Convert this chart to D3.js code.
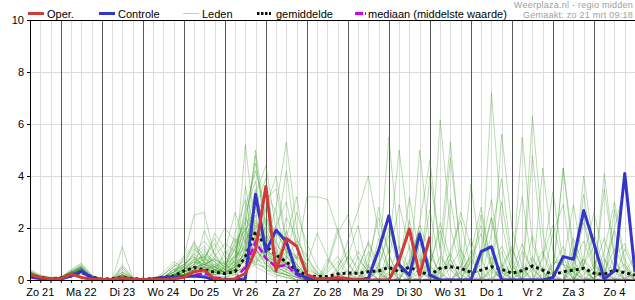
<!DOCTYPE html>
<html lang="nl">
<head>
<meta charset="UTF-8">
<title>Neerslag pluim</title>
<script src="https://cdn.jsdelivr.net/npm/d3@7"></script>
<style>
  body { margin: 0; background: #fff; }
  text { font-family: "Liberation Sans", Arial, sans-serif; }
</style>
</head>
<body>
<script>
// dagen op de x-as (label in het midden van de dag)
const dagen = ['Zo 21', 'Ma 22', 'Di 23', 'Wo 24', 'Do 25', 'Vr 26', 'Za 27', 'Zo 28', 'Ma 29', 'Di 30', 'Wo 31', 'Do 1', 'Vr 2', 'Za 3', 'Zo 4']
const yTicks = [0, 2, 4, 6, 8, 10]

// neerslag in mm per 6 uur, eerste waarde = zo 21 06:00
const oper = [0.2,0.1,0.05,0.05, 0.23,0.1,0.03,0.02, 0.02,0.09,0.03,0.02, 0.02,0.02,0.05,0.1,
  0.32,0.38,0.05,0, 0.05,0.25,1.15,3.6, 0.35,1.6,1.3,0.2, 0.05,0.05,0.1,0.05, 0.02,0,0,0, 0.77,1.96,0.19,1.67]
const controle = [0.15,0.05,0,0.05, 0.15,0.35,0.1,0.02, 0,0.05,0.02,0, 0.05,0.1,0.12,0.13,
  0.15,0.12,0,0, 0,0.05,3.3,1.1, 1.92,1.47,0.27,0.07, 0,0,0,0, 0,0.07,1.15,2.47,
  0.58,0.19,1.77,0.2, 0,0,0,0, 1.09,1.28,0,0, 0,0,0,0.1, 0.9,0.8,2.67,1.41, 0.03,0.36,4.1,0.3]
const gemiddelde = [0.15,0.1,0.05,0.08, 0.2,0.3,0.12,0.03, 0.05,0.1,0.05,0.03, 0.05,0.1,0.15,0.35,
  0.48,0.4,0.3,0.25, 0.32,0.9,1.86,1.3, 0.96,0.7,0.38,0.17, 0.13,0.13,0.23,0.27, 0.26,0.32,0.35,0.49,
  0.32,0.49,0.32,0.19, 0.45,0.51,0.45,0.3, 0.38,0.51,0.41,0.26, 0.36,0.54,0.38,0.19, 0.32,0.38,0.45,0.26, 0.22,0.38,0.28,0.19]
const mediaan = [0.1,0.05,0.02,0.03, 0.15,0.35,0.05,0, 0,0,0,0, 0,0,0.05,0.1,
  0.2,0.25,0.1,0.05, 0.02,0.5,1.47,0.83, 0.5,0.58,0.19,0.02, 0,0,0,0, 0,0,0,0,
  0,0,0,0, 0,0,0,0, 0,0,0,0, 0,0,0,0, 0,0,0,0, 0,0,0,0]

const leden = [
  [0.3,0.1,0.05,0.1, 0.3,0.5,0.1,0, 0,0.1,0,0, 0,0.1,0.2,0.4, 0.8,1.2,0.5,0.3, 0.8,2.1,4.8,1.5, 0.9,1.2,0.5,0.1, 0,0,0.2,0.1, 0,0.3,1.2,0.4, 0.2,0,0,0.5, 2.2,0.8,0,0.1, 0,0.3,0.1,0, 0,0.4,1.1,0.2, 0,0,0.6,1.8, 0.4,0,0.1,0.2],
  [0.2,0.1,0.05,0.05, 0.2,0.4,0.1,0, 0,0.2,0.05,0, 0,0,0.1,0.2, 0.5,0.9,1.4,0.6, 0.3,1.2,2.8,3.9, 1.1,0.6,0.3,0, 0,0,0,0.1, 0.4,1.5,0.6,0, 0,0,0.3,0.1, 0,0,0.5,1.6, 0.3,0,0,0, 0,0,0.2,0.1, 0,0.3,0,0, 0,0.5,0.2,0],
  [0.4,0.2,0.1,0.1, 0.4,0.65,0.2,0, 0,0.6,0.1,0, 0,0.3,0.7,0.5, 1.5,0.6,0.2,0.4, 1.8,3.1,1.2,0.6, 0.3,0.2,0.1,0, 0,0,0,0, 0,0,0,0.8, 2.9,1.2,0,0, 0,0,0,0.2, 0.6,2.4,0.5,0, 0,0,0,0, 0,0,0.9,2.6, 0.8,0,0,0],
  [0.15,0.05,0,0.05, 0.15,0.3,0.1,0, 0,1.28,0.1,0, 0,0.1,0.2,0.3, 0.6,1.1,0.7,0.2, 0.4,5.2,1.8,0.9, 0.4,0.7,0.3,0.1, 0,0.4,0.9,0.3, 0,0,0,0.2, 0.5,0.1,0,0, 0,1.1,2.3,0.4, 0,0,0,0.3, 1.4,0.2,0,0, 0,0,0,0.1, 0.3,1.2,0.5,0],
  [0.25,0.1,0.05,0.1, 0.25,0.45,0.15,0, 0,0.5,0.05,0, 0.05,0.2,0.5,0.9, 2.5,2.6,0.9,0.5, 1.2,2.4,1.6,0.8, 0.2,0.1,0,0, 0,0.3,0.7,0.2, 0.1,0.6,0.2,0, 0,0.8,1.9,0.5, 0,0,0.3,0.9, 0,0,0.4,1.2, 0.3,0,0,0.5, 1.3,0,0.2,0.6, 0.2,0,0,0],
  [0.35,0.15,0.05,0.1, 0.35,0.55,0.15,0, 0,0.3,0.05,0, 0,0.05,0.3,0.6, 0.9,0.5,0.3,1.1, 2.6,1.4,5.0,2.1, 1.5,0.6,0.2,0.1, 0,0,0,0, 0,0,0.5,5.5, 1.2,0,0,0, 0.4,1.0,0.2,0, 0,0,0.6,0.3, 0,0.8,0.3,0, 0,0.5,0.1,0, 0,0.9,1.4,0.4],
  [0.2,0.1,0,0.05, 0.2,0.35,0.1,0, 0,0,0,0, 0,0,0.1,0.2, 0.4,0.7,1.8,1.2, 0.6,1.0,3.2,1.4, 2.8,5.3,2.0,0.4, 0,0,0,0, 0,0,0,0.6, 0,0.6,2.1,1.1, 0.2,0,0,0.7, 1.8,0.4,0,0, 0,0,0.5,0.2, 4.3,1.2,0.3,0, 0,0,0,0.3],
  [0.3,0.1,0.05,0.1, 0.3,0.45,0.1,0, 0,0.1,0,0, 0,0,0,0.1, 0.3,0.4,0.5,0.7, 1.4,2.2,2.6,3.1, 3.5,1.4,0.8,3.2, 3.2,3.1,1.9,0.6, 0.2,0,0,0, 0,0,0.8,0.3, 0,0,0,0, 0,0.5,1.3,0.4, 0,0,0,0, 0,0,0,0.5, 1.6,0.4,0,0],
  [0.15,0.05,0.05,0.05, 0.2,0.3,0.1,0, 0,0.2,0.05,0, 0,0.05,0.1,0.2, 0.2,0.3,0.2,0.1, 0.3,0.9,1.4,1.0, 0.5,0.3,0.2,0, 0,0,0.4,1.5, 2.7,4.0,1.8,0.4, 0,0,0,0, 6.15,2.0,0.5,0, 0,0,0.3,0, 0,0,0,0.7, 0.6,0.4,0,0, 0,0.3,0.6,0],
  [0.2,0.1,0.05,0.1, 0.2,0.4,0.15,0, 0,0.1,0,0, 0,0.1,0.3,0.4, 0.7,0.9,0.4,0.3, 0.8,1.6,2.0,2.4, 1.8,1.2,0.9,0.4, 0.2,0,0,0, 0,0,0.4,0.2, 0,0,0,0.9, 0.3,0,0,0, 0,7.2,2.2,0.3, 0,0,0,0, 0,0.7,1.5,0.4, 0,0,0,0],
  [0.3,0.15,0.05,0.1, 0.3,0.5,0.1,0, 0,0.3,0.1,0, 0,0.05,0.2,0.5, 1.1,1.5,1.0,0.6, 0.3,0.5,0.8,1.1, 0.9,2.4,1.6,0.7, 0.3,0,0,0, 0,0,0,1.2, 5.0,1.8,0,0, 0,0,0.4,0.2, 0,0,0,0.6, 0,0,0,0, 0,0,0,0.3, 0,2.0,3.6,0.8],
  [0.1,0.05,0,0.05, 0.1,0.25,0.05,0, 0,0,0,0, 0,0.1,0.4,0.3, 0.5,0.6,0.8,0.5, 0.7,3.6,1.5,0.9, 0.4,0.2,0,0, 0,0,0,0, 0,0.8,2.4,1.0, 0,0,0,4.0, 1.2,5.3,0.9,0, 0,0,0,0, 0.3,0.9,0,0, 0,0,0,0, 0,0,0.4,0],
  [0.25,0.1,0.05,0.1, 0.25,0.4,0.1,0, 0,0.1,0,0, 0,0,0.05,0.1, 0.2,0.2,0.1,0.1, 0.2,0.4,0.6,1.4, 2.1,3.0,1.2,0.5, 0.2,0,0,0, 0,0.5,0.3,0, 0,1.3,0.4,0, 0,0,0,0, 0,0,5.6,2.0, 0.5,0,0,0, 0,0,0.8,0.3, 0,0,0,0],
  [0.2,0.1,0.05,0.05, 0.2,0.3,0.1,0, 0,0.05,0,0, 0,0.05,0.2,0.2, 0.3,0.5,1.2,2.0, 1.5,1.1,0.5,0.3, 0.1,0.4,0.9,0.6, 1.8,0.9,0.3,0, 0,0,0,0, 0,0,0,0, 0.9,0.4,0,0, 0,0,0,0, 5.5,1.4,0.3,0, 0,0,0.5,0, 0,0,0,0],
  [0.3,0.1,0.05,0.1, 0.3,0.55,0.15,0, 0,0.2,0,0, 0,0.1,0.2,0.3, 0.6,0.8,0.6,0.4, 0.9,2.8,4.2,2.6, 0.7,0.4,0.2,0, 0,0,0,0, 0,0,0,0, 0.6,0,0,0, 0,0,0,0, 0,0.9,0.3,0, 0,6.3,1.8,0.2, 0,0,0,0, 0,0,0,0],
  [0.2,0.1,0.05,0.05, 0.2,0.35,0.1,0, 0,0.1,0,0, 0,0.05,0.1,0.3, 0.4,0.5,0.9,1.4, 1.1,0.8,1.2,0.7, 0.4,0.8,1.5,0.9, 0.3,0,0,0.4, 1.1,0.5,0,0, 0,0.7,1.6,0.4, 0,0,0,0.8, 2.1,0.5,0,0, 0,0,4.3,1.1, 0.2,0,0.6,1.3, 0.4,0,0,0],
  [0.15,0.05,0.05,0.05, 0.15,0.3,0.05,0, 0,0.1,0,0, 0,0.2,0.5,0.7, 1.2,0.8,0.5,0.3, 0.5,1.5,2.3,1.2, 0.8,0.5,0.3,0.1, 0,0.5,1.8,2.5, 0.8,0.3,0,0, 0,0,0.5,2.7, 0.4,0.6,0,0, 0,0.4,1.1,0, 0,0,0,0.3, 4.3,0.8,0,0, 0,0.5,0,0],
  [0.35,0.15,0.05,0.1, 0.3,0.45,0.1,0, 0,0.1,0,0, 0,0,0.1,0.2, 0.3,0.4,0.3,0.2, 0.4,1.2,3.3,4.4, 1.9,1.1,0.6,0.2, 0,0,0,0, 0.5,1.4,0.4,0, 0,0,0,0, 0,0.8,2.6,1.3, 0,0,0,0, 0,1.7,0.3,0, 0,0,4.0,1.2, 0.3,0,0,0],
  [0.2,0.1,0.05,0.05, 0.2,0.4,0.1,0, 0,0.1,0,0, 0,0.1,0.2,0.2, 0.4,0.6,0.4,0.3, 0.5,0.7,0.9,1.1, 0.6,0.9,0.5,0.2, 0,0,0,0, 0,1.1,0.3,0, 0,0,1.4,0.6, 0,0,0,0, 1.2,3.1,0.4,0, 0,0,0,0.6, 0.9,0,0,0, 4.1,0.9,0,0],
  [0.25,0.1,0.05,0.1, 0.25,0.45,0.1,0, 0,0.2,0.05,0, 0,0.05,0.1,0.5, 1.0,1.3,0.8,0.5, 1.5,1.9,2.8,1.6, 1.2,0.7,0.3,0.1, 0,0,0,0.9, 2.1,0.3,0,0, 0,0,0,0, 0,0,0.3,0.9, 0,0,0,0, 0.5,0,0,0, 0,0.6,2.2,0.4, 0,0,0.3,0.9],
  [0.3,0.1,0.05,0.05, 0.2,0.35,0.1,0, 0,0.4,0.05,0, 0,0.1,0.3,0.8, 1.3,0.7,0.4,0.6, 0.9,1.3,1.9,0.8, 0.5,1.1,0.6,0.2, 0,0.6,2.0,0.7, 0,0,0,0, 0,0,0,0, 0,0.5,1.2,0.3, 2.5,0.6,0,0, 0,0,0.8,3.4, 0.6,0,0,0, 0,0,0,0.5],
  [0.2,0.05,0.05,0.1, 0.3,0.5,0.1,0, 0,0.05,0,0, 0,0,0.2,0.4, 0.5,1.9,1.0,0.4, 0.3,0.6,1.7,2.3, 1.4,0.9,0.4,0.1, 0,0,0,0, 0,0,0.6,1.7, 0.5,0,0,0, 0,0,0,3.7, 0.8,0,0,0, 0,0,0,0, 0,1.6,0.5,0, 0,0,0,0],
  [0.25,0.1,0.05,0.05, 0.2,0.4,0.1,0, 0,0.1,0,0, 0,0.05,0.15,0.2, 0.3,0.4,0.6,0.3, 0.2,0.5,1.4,2.0, 1.6,4.2,1.3,0.3, 0,0,0,0, 0,0,0,0, 0.4,3.2,0.9,0, 0,0,0,0, 0,0.4,3.0,0.6, 0,0.5,0,0, 0,0,0,0, 0.6,1.9,0.3,0],
  [0.2,0.1,0.05,0.05, 0.15,0.3,0.1,0, 0,0,0,0, 0,0.1,0.1,0.2, 0.4,0.3,0.2,0.3, 0.6,1.0,0.7,0.4, 0.3,0.2,0.1,0, 0,0,0,0, 0,0,0,0, 0,0,5.0,1.3, 0,0,0,0, 0,0,0,0, 0.4,0,0,1.8, 2.9,0.3,0,0, 0,0,0,0],
  [0.3,0.15,0.1,0.1, 0.35,0.6,0.2,0, 0,0.5,0.1,0, 0,0.1,0.4,0.6, 0.9,0.4,0.2,0.5, 1.2,2.0,0.9,0.4, 0.2,0.1,0,0, 0,0,0.5,1.1, 0.3,0,0,0, 0,0,0,0.6, 1.9,0.4,0,0, 0,0,0,0, 0,0,0,0, 0,0,0,0, 3.5,0.8,0,0],
  [0.15,0.05,0.05,0.05, 0.15,0.25,0.05,0, 0,0,0,0, 0,0,0.05,0.1, 0.2,0.3,0.4,0.2, 0.3,0.8,2.1,1.3, 0.6,1.6,3.2,0.9, 0.2,0,0,0, 0,0,0.4,2.0, 0.7,0,0,0, 0,0,0,0, 0.8,2.4,0.6,0, 0,0,0,0, 0,1.2,0.4,0, 0,0,0,0],
  [0.2,0.1,0.05,0.1, 0.2,0.35,0.1,0, 0,0.15,0,0, 0,0.1,0.2,0.4, 0.7,0.5,0.3,0.2, 0.5,1.4,3.0,1.8, 0.9,0.5,0.2,0, 0,0,0,0, 0,0,0,0, 0,0,0,0, 0.6,4.7,1.2,0, 0,0,0,0, 0,0,0,0, 0,0.4,0.8,0, 0,0,0,0],
  [0.25,0.1,0.05,0.05, 0.25,0.4,0.1,0, 0,0.1,0,0, 0,0.05,0.2,0.2, 0.4,0.7,0.5,0.9, 1.6,1.2,0.6,0.5, 0.3,0.2,0,0, 0,0,0,0, 0,0,0,0, 0,0,0,0, 0,0,0,0, 0,0,0,0.8, 3.2,0.5,0,0, 0,0,0,0, 0,0,0,0],
  [0.2,0.1,0.05,0.05, 0.2,0.3,0.1,0, 0,0.1,0,0, 0,0.1,0.3,0.5, 0.8,0.9,0.7,0.4, 0.6,1.8,3.5,1.1, 0.5,0.3,0.1,0, 0,0,0,0, 0,0,0,0, 0,0,0,0, 0,0,0,0, 0,0,0,0, 0,0,0,0, 0,0,0,0, 0,0,0,0],
  [0.3,0.1,0.05,0.1, 0.3,0.45,0.1,0, 0,0.1,0,0, 0,0.05,0.1,0.3, 0.5,0.6,0.4,0.3, 0.5,0.9,1.1,0.8, 0.6,0.4,0.2,0.1, 0,0,0,0, 0,0,0,0, 0,0,0,0, 0,0,0,0, 0,0,0,0, 0,0,0,0, 0,0,0,0, 0,0,0,0],
  [0.25,0.1,0.05,0.05, 0.2,0.5,0.1,0, 0,0.3,0,0, 0,0.2,0.6,0.4, 0.8,0.6,0.3,0.4, 1.0,2.6,3.8,1.2, 0.6,1.9,0.8,0.2, 0,0.8,0.3,0, 0,0,1.6,0.5, 0,0,0,0, 0,3.1,0.7,0, 0,0,0,0, 1.1,0.4,0,0, 0,0.9,2.4,0.6, 0,0,0,0],
  [0.2,0.1,0.05,0.05, 0.2,0.35,0.1,0, 0,0.1,0,0, 0,0.1,0.2,0.9, 1.4,0.9,0.5,0.3, 0.4,0.9,1.6,2.8, 4.0,1.5,0.6,0.1, 0,0,0,0, 0.9,0.3,0,0, 0,0,2.2,4.6, 1.1,0,0,0, 0,0,0.5,1.3, 0,0,0,0, 0,0,0,0, 0,0,1.2,0.3],
  [0.3,0.15,0.05,0.1, 0.3,0.4,0.1,0, 0,0.2,0.05,0, 0,0,0.1,0.3, 0.5,0.8,1.6,0.9, 0.5,0.7,1.2,0.6, 0.4,0.9,2.6,1.4, 0.5,0,0,0, 0,0,0,0, 0,0,0,0, 0.3,0.8,0,0, 0,0,0,0, 0,0,0,0, 0.7,2.9,0.5,0, 0,0,0,0],
  [0.15,0.05,0.05,0.05, 0.15,0.3,0.1,0, 0,0.1,0,0, 0,0.05,0.1,0.2, 0.3,0.5,0.4,0.3, 0.5,1.1,2.2,1.6, 0.9,0.6,0.3,0.1, 0,0,0,0, 0,0,0,0.3, 1.3,0.4,0,0, 0,0,0,0, 0,0,0,0, 0,4.8,1.0,0, 0,0,0,0, 0.8,0.3,0,0],
  [0.25,0.1,0.05,0.1, 0.25,0.4,0.1,0, 0,0.2,0,0, 0,0.1,0.3,0.6, 1.0,0.7,0.4,0.2, 0.6,1.9,2.5,0.9, 0.5,0.3,0.1,0, 0,0,0,0, 0,0,0,0, 0,0,0,0, 0,0,0,0, 0,1.8,3.9,0.8, 0,0,0,0, 0,0,0,0, 0,2.7,0.6,0],
  [0.2,0.1,0.05,0.05, 0.2,0.35,0.1,0, 0,0.1,0,0, 0,0.1,0.2,0.2, 0.3,0.4,0.3,0.5, 0.9,1.2,0.8,0.6, 0.3,0.5,1.0,0.6, 0.2,0,0,0, 0,0,0,0, 0.6,2.3,0.7,0, 0,0,0,1.1, 2.8,0.5,0,0, 0,0,0,0, 0,0,0,0, 0,0,0,0],
  [0.3,0.1,0.05,0.05, 0.25,0.45,0.1,0, 0,0.2,0,0, 0,0.05,0.2,0.4, 0.6,1.0,0.7,0.4, 0.7,2.3,4.5,2.0, 1.0,0.6,0.3,0, 0,0,0,0, 0,0,0,0, 0,0,0,0, 0,0,0,0, 0,0,0,0, 0,0,0,0, 0,0,3.3,0.8, 0,0,0,0],
  [0.2,0.05,0.05,0.05, 0.2,0.3,0.05,0, 0,0.05,0,0, 0,0.1,0.4,0.5, 0.7,0.6,0.5,0.3, 0.4,0.8,1.0,1.2, 0.8,0.6,0.4,0.2, 0,0,0.3,0.9, 0.5,0,0,0, 0,0,0,0, 0,0,0,0, 0,0,0,0, 0,0,0.9,2.1, 0.6,0,0,0, 0,0,0,0],
  [0.25,0.1,0.05,0.1, 0.3,0.5,0.15,0, 0,0.2,0,0, 0,0.05,0.1,0.2, 0.4,0.6,0.8,0.6, 1.3,1.7,2.4,3.4, 2.6,1.0,0.4,0.1, 0,0,0,0, 0,0.5,2.8,1.0, 0,0,0,0, 0,0,0,0, 0,0,0,0, 0,0,0,0, 0,0,0,0, 1.1,3.0,0.8,0],
  [0.2,0.1,0.05,0.05, 0.2,0.4,0.1,0, 0,0.1,0,0, 0,0.1,0.2,0.3, 0.5,0.4,0.3,0.2, 0.3,0.5,0.7,0.9, 0.7,0.5,0.3,0.1, 0,0,0,0, 0,0,0,0, 0,0,0,0, 0,0,0,0, 0,0,0,0, 0,0,0,0, 0,0,0,0, 0,0,0,0]
]

const W = 635, H = 300
const pLeft = 30, pRight = 635, pTop = 20, pBottom = 280

const start = Date.UTC(2021, 2, 21, 6)
const eind = Date.UTC(2021, 3, 5, 0)
const stap = 6 * 3600 * 1000
const tijd = i => new Date(start + i * stap)

const x = d3.scaleUtc().domain([new Date(start), new Date(eind)]).range([pLeft, pRight])
const y = d3.scaleLinear().domain([0, 10]).range([pBottom, pTop])
const px = v => Math.round(v) + 0.5

const svg = d3.select('body').append('svg')
  .attr('width', W)
  .attr('height', H)

// rasterlijnen
const grid = svg.append('g')
grid.selectAll('.zes')
  .data(d3.utcHour.every(6).range(new Date(start), new Date(eind)))
  .join('line')
  .attr('x1', d => px(x(d))).attr('x2', d => px(x(d)))
  .attr('y1', pTop).attr('y2', pBottom)
  .attr('stroke', '#dcdcdc')
grid.selectAll('.hor')
  .data(yTicks.filter(d => d > 0 && d < 10))
  .join('line')
  .attr('x1', pLeft).attr('x2', pRight)
  .attr('y1', d => px(y(d))).attr('y2', d => px(y(d)))
  .attr('stroke', '#dcdcdc')
grid.selectAll('.dag')
  .data(d3.utcDay.range(new Date(Date.UTC(2021, 2, 22)), new Date(eind)))
  .join('line')
  .attr('x1', d => px(x(d))).attr('x2', d => px(x(d)))
  .attr('y1', pTop).attr('y2', pBottom)
  .attr('stroke', '#5a5a5a')

svg.append('clipPath').attr('id', 'plot')
  .append('rect').attr('x', pLeft).attr('y', pTop).attr('width', pRight - pLeft).attr('height', pBottom - pTop + 1)

const lijn = d3.line()
  .x((d, i) => x(tijd(i)))
  .y(d => y(d))

const reeksen = svg.append('g').attr('clip-path', 'url(#plot)')

// leden
reeksen.selectAll('.lid')
  .data(leden)
  .join('path')
  .attr('d', lijn)
  .attr('fill', 'none')
  .attr('stroke', '#3f9f2a')
  .attr('stroke-opacity', 0.36)
  .attr('stroke-width', 1)

// gemiddelde
reeksen.append('path')
  .attr('d', lijn(gemiddelde))
  .attr('fill', 'none')
  .attr('stroke', '#111')
  .attr('stroke-width', 3)
  .attr('stroke-dasharray', '3,3')

// mediaan
reeksen.append('path')
  .attr('d', lijn(mediaan))
  .attr('fill', 'none')
  .attr('stroke', '#cc00ee')
  .attr('stroke-width', 2.5)
  .attr('stroke-dasharray', '7,3')

// controle
reeksen.append('path')
  .attr('d', lijn(controle))
  .attr('fill', 'none')
  .attr('stroke', '#3535cc')
  .attr('stroke-width', 3)
  .attr('stroke-linejoin', 'round')

// operationeel
reeksen.append('path')
  .attr('d', lijn(oper))
  .attr('fill', 'none')
  .attr('stroke', '#d23a3a')
  .attr('stroke-width', 3)
  .attr('stroke-linejoin', 'round')

// assen
const xAxis = d3.axisBottom(x)
  .ticks(d3.utcHour.every(6))
  .tickSize(3)
  .tickSizeOuter(0)
  .tickFormat('')
svg.append('g')
  .attr('transform', `translate(0,${pBottom})`)
  .call(xAxis)
  .call(g => g.selectAll('.tick line').attr('stroke', '#000'))

const yAxis = d3.axisLeft(y)
  .tickValues(yTicks)
  .tickSize(3)
  .tickSizeOuter(0)
  .tickPadding(3)
svg.append('g')
  .attr('transform', `translate(${pLeft},0)`)
  .call(yAxis)
  .call(g => g.selectAll('text').attr('font-size', 11).attr('fill', '#000').attr('font-family', null))

svg.append('line')
  .attr('x1', pLeft).attr('x2', pRight)
  .attr('y1', px(pTop)).attr('y2', px(pTop))
  .attr('stroke', '#000')

svg.append('g').selectAll('text')
  .data(dagen)
  .join('text')
  .attr('x', (d, i) => x(new Date(Date.UTC(2021, 2, 21 + i, 12))))
  .attr('y', 296)
  .attr('text-anchor', 'middle')
  .attr('font-size', 11)
  .text(d => d)

// legenda
const leg = svg.append('g')
const ly = 13.5
leg.append('line').attr('x1', 28).attr('x2', 44).attr('y1', ly).attr('y2', ly)
  .attr('stroke', '#d23a3a').attr('stroke-width', 3)
leg.append('text').attr('x', 47).attr('y', 17.5).attr('font-size', 11).text('Oper.')
leg.append('line').attr('x1', 99).attr('x2', 115).attr('y1', ly).attr('y2', ly)
  .attr('stroke', '#3535cc').attr('stroke-width', 3)
leg.append('text').attr('x', 118).attr('y', 17.5).attr('font-size', 11).text('Controle')
leg.append('line').attr('x1', 183).attr('x2', 199).attr('y1', ly).attr('y2', ly)
  .attr('stroke', '#b7dbae').attr('stroke-width', 1)
leg.append('text').attr('x', 202).attr('y', 17.5).attr('font-size', 11).text('Leden')
leg.append('line').attr('x1', 257).attr('x2', 271).attr('y1', ly).attr('y2', ly)
  .attr('stroke', '#111').attr('stroke-width', 3).attr('stroke-dasharray', '2.5,1.5')
leg.append('text').attr('x', 276).attr('y', 17.5).attr('font-size', 11).text('gemiddelde')
leg.append('line').attr('x1', 355).attr('x2', 366).attr('y1', ly).attr('y2', ly)
  .attr('stroke', '#cc00ee').attr('stroke-width', 3).attr('stroke-dasharray', '8,2,1,2')
leg.append('text').attr('x', 368).attr('y', 17.5).attr('font-size', 11).text('mediaan (middelste waarde)')

svg.append('text').attr('x', 633).attr('y', 7.5).attr('text-anchor', 'end')
  .attr('font-size', 9).attr('letter-spacing', 0.25).attr('fill', '#a0a0a0').text('Weerplaza.nl - regio midden')
svg.append('text').attr('x', 633).attr('y', 17.5).attr('text-anchor', 'end')
  .attr('font-size', 9).attr('letter-spacing', 0.25).attr('fill', '#a0a0a0').text('Gemaakt: zo 21 mrt 09:18')
</script>
</body>
</html>
